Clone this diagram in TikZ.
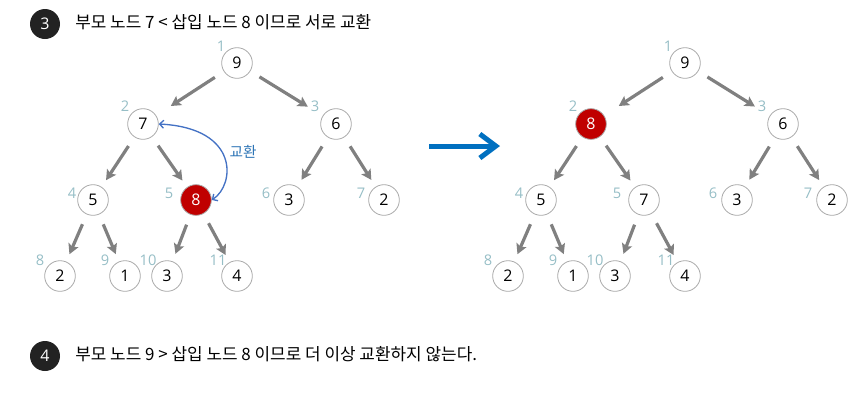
\documentclass[tikz,border=0pt]{standalone}
\usepackage{fontspec}
\setmainfont{Open Sans}
\newfontfamily\krfont{Noto Sans CJK KR}
\usetikzlibrary{arrows.meta}
\definecolor{heapgray}{RGB}{128,128,128}
\definecolor{ringgray}{RGB}{170,170,170}
\definecolor{idxteal}{RGB}{150,190,198}
\definecolor{swapblue}{RGB}{68,114,196}
\definecolor{swaptext}{RGB}{46,117,182}
\definecolor{movblue}{RGB}{0,112,192}
\definecolor{hotred}{RGB}{192,0,0}
\definecolor{badgeblack}{RGB}{34,34,34}
\tikzset{
  heapnode/.style={circle, draw=ringgray, fill=white, minimum size=23pt,
    inner sep=0pt, font=\fontsize{12}{14}\selectfont, line width=0.6pt},
  hotnode/.style={heapnode, fill=hotred, text=white},
  idx/.style={font=\fontsize{11}{13}\selectfont, text=idxteal, inner sep=0pt},
  heaparrow/.style={-{Stealth[length=7.5pt,width=8pt,inset=1.5pt]}, line width=2.4pt,
    draw=heapgray, shorten <=8pt, shorten >=6pt},
  toparrow/.style={heaparrow, shorten >=13pt},
  swaparrow/.style={{Straight Barb[length=3pt,width=6pt]}-{Straight Barb[length=3pt,width=6pt]},
    line width=1pt, draw=swapblue},
  bigarrow/.style={-{Straight Barb[length=12pt,width=18pt]}, line width=3.75pt, draw=movblue},
  badge/.style={circle, fill=badgeblack, minimum size=22.5pt, inner sep=0pt,
    text=white, font=\fontsize{12}{14}\selectfont},
  stepnote/.style={anchor=west, inner sep=0pt, font=\krfont\fontsize{12.7}{15}\selectfont}
}
\begin{document}
\begin{tikzpicture}[x=0.75pt, y=-0.75pt]
  \useasboundingbox (0,0) rectangle (860,401);

  % Step headers
  \node[badge] (s3) at (45,24) {3};
  \node[stepnote] (t3) at (75,22) {부모 노드 7 < 삽입 노드 8 이므로 서로 교환};
  \node[badge] (s4) at (45,356) {4};
  \node[stepnote] (t4) at (75,354) {부모 노드 9 > 삽입 노드 8 이므로 더 이상 교환하지 않는다.};

  % Heap before the swap
  \node[heapnode] (a1) at (237,63) {9};
  \node[heapnode] (a2) at (143,124) {7};
  \node[heapnode] (a3) at (336,124) {6};
  \node[heapnode] (a4) at (93,200) {5};
  \node[hotnode] (a5) at (196,200) {8};
  \node[heapnode] (a6) at (289,200) {3};
  \node[heapnode] (a7) at (384,200) {2};
  \node[heapnode] (a8) at (60,276) {2};
  \node[heapnode] (a9) at (125,276) {1};
  \node[heapnode] (a10) at (167,276) {3};
  \node[heapnode] (a11) at (237,276) {4};

  % Heap after the swap
  \node[heapnode] (b1) at (685,63) {9};
  \node[hotnode] (b2) at (591,124) {8};
  \node[heapnode] (b3) at (783,124) {6};
  \node[heapnode] (b4) at (541,200) {5};
  \node[heapnode] (b5) at (644,200) {7};
  \node[heapnode] (b6) at (737,200) {3};
  \node[heapnode] (b7) at (832,200) {2};
  \node[heapnode] (b8) at (508,276) {2};
  \node[heapnode] (b9) at (573,276) {1};
  \node[heapnode] (b10) at (615,276) {3};
  \node[heapnode] (b11) at (685,276) {4};

  % Array indices
  \foreach \n/\x/\y in {1/221/46, 2/125/106, 3/315/106, 4/72/193, 5/169/193,
      6/266/193, 7/361/193, 8/40/260, 9/105/260, 10/148/260, 11/218/260}
    \node[idx] (ia\n) at (\x,\y) {\n};
  \foreach \n/\x/\y in {1/668/46, 2/573/106, 3/762/106, 4/519/193, 5/617/193,
      6/713/193, 7/808/193, 8/488/260, 9/553/260, 10/595/260, 11/666/260}
    \node[idx] (ib\n) at (\x,\y) {\n};

  % Parent-child links
  \foreach \c in {2, 3} {
    \draw[toparrow] (a1) -- (a\c);
    \draw[toparrow] (b1) -- (b\c);
  }
  \foreach \p/\c in {2/4, 2/5, 3/6, 3/7, 4/8, 4/9, 5/10, 5/11} {
    \draw[heaparrow] (a\p) -- (a\c);
    \draw[heaparrow] (b\p) -- (b\c);
  }

  % Swap of 7 and 8
  \draw[swaparrow] (a5.east) .. controls (235,185) and (240,128) .. (a2.east);
  \node[font=\krfont\fontsize{11}{13}\selectfont, text=swaptext] (swaplbl) at (243,152) {교환};

  % Before -> after
  \coordinate (go1) at (429,146);
  \coordinate (go2) at (500,146);
  \draw[bigarrow] (go1) -- (go2);
\end{tikzpicture}
\end{document}
